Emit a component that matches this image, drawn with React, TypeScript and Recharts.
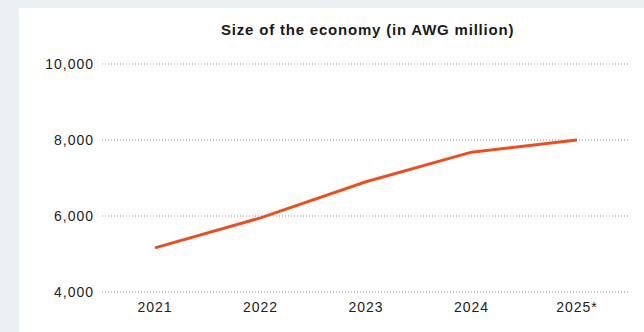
import { LineChart, Line, XAxis, YAxis, CartesianGrid } from "recharts";

const years = ["2021", "2022", "2023", "2024", "2025*"];
const gdp = [5160, 5950, 6900, 7680, 8000];
const yTicks = [4000, 6000, 8000, 10000];

const data = years.map((year, i) => ({ year, gdp: gdp[i] }));

const FONT = "'Liberation Sans', Arial, sans-serif";
const fmt = (v: number) => v.toLocaleString("en-US");
const tickStyle = { fill: "#222", fontSize: 14, fontFamily: FONT, letterSpacing: 1 };

export default function App() {
  return (
    <div
      style={{
        position: "fixed",
        left: 0,
        top: 0,
        width: 644,
        height: 332,
        background: "#ebf0f3",
        fontFamily: FONT,
      }}
    >
      <div style={{ position: "absolute", left: 19, top: 8, right: 0, bottom: 0, background: "#fff" }} />
      <div
        style={{
          position: "absolute",
          left: 221,
          top: 21,
          fontSize: 15,
          fontWeight: 700,
          letterSpacing: 0.8,
          color: "#1a1a1a",
          whiteSpace: "nowrap",
        }}
      >
        Size of the economy (in AWG million)
      </div>
      <div style={{ position: "absolute", left: 0, top: 0 }}>
        <LineChart width={644} height={332} data={data} margin={{ top: 64, right: 14, bottom: 10, left: 0 }}>
          <CartesianGrid vertical={false} stroke="#8a8a8a" strokeDasharray="1 2" />
          <XAxis
            dataKey="year"
            axisLine={false}
            tickLine={false}
            tickSize={0}
            tickMargin={10}
            height={30}
            padding={{ left: 53, right: 53 }}
            tick={tickStyle}
          />
          <YAxis
            domain={[4000, 10000]}
            ticks={yTicks}
            axisLine={false}
            tickLine={false}
            tickSize={0}
            tickMargin={8}
            width={102}
            tickFormatter={fmt}
            tick={tickStyle}
          />
          <Line
            type="linear"
            dataKey="gdp"
            stroke="#e8511f"
            strokeWidth={3}
            dot={false}
            isAnimationActive={false}
          />
        </LineChart>
      </div>
    </div>
  );
}
